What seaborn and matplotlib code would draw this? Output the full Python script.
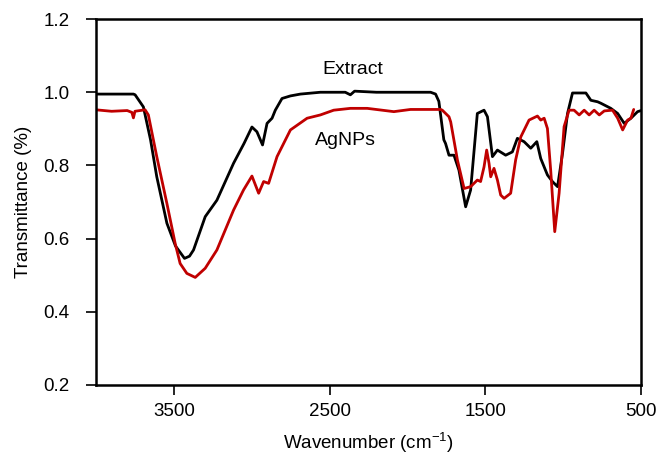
import numpy as np
import pandas as pd
import matplotlib

matplotlib.use('Agg')
import matplotlib.pyplot as plt
import seaborn as sns

# FTIR spectra
extract_wn = [4000, 3760, 3749, 3696, 3650, 3610, 3545, 3490, 3432, 3400, 3374, 3299, 3224,
              3117, 3050, 2999, 2967, 2931, 2902, 2870, 2849, 2806, 2752, 2688, 2560, 2400,
              2367, 2340, 2200, 1900, 1852, 1820, 1799, 1767, 1756, 1734, 1702, 1670, 1627,
              1595, 1552, 1509, 1487, 1455, 1423, 1370, 1327, 1295, 1252, 1209, 1170, 1145,
              1102, 1070, 1037, 1005, 973, 941, 855, 823, 780, 759, 695, 651, 609, 566, 523, 500]
extract_t = [0.995, 0.995, 0.993, 0.96, 0.87, 0.769, 0.642, 0.58, 0.546, 0.552, 0.569, 0.66,
             0.705, 0.806, 0.86, 0.905, 0.892, 0.856, 0.915, 0.929, 0.951, 0.983, 0.99, 0.995,
             1.0, 1.0, 0.993, 1.003, 1.0, 1.0, 1.0, 0.995, 0.975, 0.87, 0.86, 0.828, 0.828,
             0.787, 0.687, 0.733, 0.942, 0.951, 0.933, 0.824, 0.842, 0.828, 0.837, 0.874,
             0.865, 0.847, 0.865, 0.819, 0.774, 0.756, 0.742, 0.833, 0.942, 0.998, 0.998,
             0.978, 0.974, 0.97, 0.956, 0.942, 0.915, 0.929, 0.947, 0.95]

agnps_wn = [4000, 3900, 3800, 3770, 3760, 3750, 3685, 3664, 3610, 3545, 3492, 3460, 3417,
            3363, 3299, 3224, 3117, 3053, 2999, 2956, 2924, 2892, 2838, 2752, 2645, 2560,
            2474, 2367, 2259, 2088, 1981, 1852, 1788, 1777, 1734, 1723, 1691, 1680, 1637,
            1595, 1552, 1531, 1509, 1492, 1477, 1466, 1445, 1423, 1402, 1380, 1338, 1306,
            1273, 1220, 1166, 1145, 1123, 1102, 1081, 1055, 1027, 995, 963, 931, 898, 866,
            834, 802, 769, 737, 684, 651, 619, 587, 566, 548]
agnps_t = [0.952, 0.948, 0.950, 0.945, 0.93, 0.948, 0.952, 0.938, 0.824, 0.696, 0.587, 0.532,
           0.505, 0.494, 0.519, 0.569, 0.678, 0.733, 0.771, 0.724, 0.756, 0.751, 0.824, 0.897,
           0.929, 0.938, 0.951, 0.956, 0.956, 0.947, 0.953, 0.953, 0.953, 0.951, 0.933, 0.919,
           0.842, 0.815, 0.737, 0.742, 0.760, 0.756, 0.796, 0.842, 0.806, 0.769, 0.792, 0.760,
           0.719, 0.710, 0.724, 0.815, 0.878, 0.924, 0.935, 0.924, 0.929, 0.901, 0.787, 0.619,
           0.724, 0.906, 0.951, 0.951, 0.938, 0.951, 0.938, 0.951, 0.938, 0.949, 0.951, 0.929,
           0.897, 0.924, 0.929, 0.953]

x_ticks = [3500, 2500, 1500, 500]
y_ticks = [0.2, 0.4, 0.6, 0.8, 1.0, 1.2]

sns.set_style("ticks")
plt.rcParams['font.family'] = ['Liberation Sans', 'DejaVu Sans']
plt.rcParams['mathtext.default'] = 'regular'
plt.rcParams['text.color'] = 'black'
plt.rcParams['axes.labelcolor'] = 'black'
plt.rcParams['axes.edgecolor'] = 'black'

fig = plt.figure(figsize=(6.6, 4.54), dpi=100)
ax = fig.add_axes([0.1455, 0.152, 0.826, 0.806])

sns.lineplot(x=extract_wn, y=extract_t, color='black', lw=2, ax=ax)
sns.lineplot(x=agnps_wn, y=agnps_t, color='#c00000', lw=2, ax=ax)

ax.set_xlim(4000, 500)
ax.set_ylim(0.2, 1.2)
ax.set_xticks(x_ticks)
ax.set_yticks(y_ticks)
ax.set_yticklabels([f'{v:.1f}' for v in y_ticks])

for s in ax.spines.values():
    s.set_linewidth(1.8)
    s.set_color('black')
ax.tick_params(axis='both', direction='out', length=7, width=1.2, labelsize=13.5,
               colors='black', pad=6)
ax.tick_params(axis='y', pad=12)

ax.set_xlabel('Wavenumber (cm$^{-1}$)', fontsize=13.5, labelpad=8)
ax.set_ylabel('Transmittance (%)', fontsize=13.5, labelpad=8)

ax.text(2354, 1.061, 'Extract', fontsize=14, ha='center', va='center')
ax.text(2399, 0.867, 'AgNPs', fontsize=14, ha='center', va='center')

plt.savefig('out.png', dpi=100)
plt.close()
